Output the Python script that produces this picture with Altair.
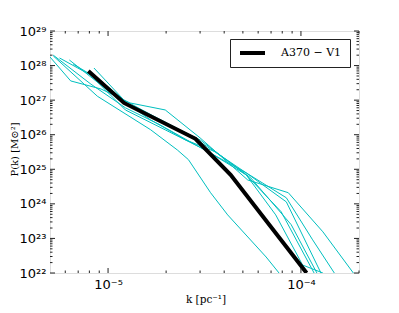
import altair as alt
import pandas as pd

# ---------------- data ----------------
k_domain = [5e-6, 2e-4]
p_domain = [1e22, 1e29]

black_name = "A370 − V1"
black_k = [7.9e-6, 1.21e-5, 2.84e-5, 4.32e-5, 1.07e-4]
black_p = [7.0e27, 8.3e26, 7.6e25, 6.9e24, 1.0e22]

c1_k = [5.0e-6, 6.4e-6, 9.2e-6, 1.30e-5, 1.98e-5, 3.0e-5, 5.3e-5, 8.6e-5, 1.30e-4, 1.87e-4]
c1_p = [1.77e28, 3.6e27, 2.1e27, 8.3e26, 5.2e26, 8.1e25, 4.9e24, 2.1e24, 1.55e23, 1.0e22]

c2_k = [5.2e-6, 8.15e-6, 1.23e-5, 1.87e-5, 2.84e-5, 5.2e-5, 8.4e-5, 1.15e-4, 1.49e-4]
c2_p = [2.0e28, 2.9e27, 6.0e26, 1.9e26, 5.1e25, 7.9e24, 1.5e24, 9.1e22, 1.0e22]

c3_k = [6.6e-6, 9.1e-6, 1.27e-5, 1.98e-5, 3.0e-5, 5.2e-5, 8.4e-5, 1.27e-4]
c3_p = [1.1e28, 3.8e27, 7.8e26, 2.3e26, 6.2e25, 7.9e24, 1.14e24, 1.0e22]

c4_k = [8.45e-6, 1.21e-5, 1.87e-5, 3.0e-5, 5.2e-5, 7.4e-5, 1.02e-4, 1.30e-4]
c4_p = [8.5e27, 1.0e27, 2.7e26, 7.1e25, 6.9e24, 4.8e23, 1.7e22, 1.0e22]

c5_k = [5.2e-6, 8.8e-6, 1.66e-5, 2.29e-5, 2.61e-5, 3.4e-5, 4.17e-5, 6.6e-5, 7.7e-5]
c5_p = [1.9e28, 1.3e27, 1.4e26, 3.6e25, 1.9e25, 2.1e24, 4.8e23, 2.9e22, 1.0e22]

c6_k = [5.6e-6, 8.1e-6, 1.23e-5, 1.98e-5, 3.2e-5, 5.2e-5, 7.9e-5, 1.17e-4]
c6_p = [1.66e28, 5.35e27, 5.2e26, 1.38e26, 3.6e25, 6.9e24, 5.9e23, 1.0e22]

c7_k = [6.3e-6, 1.02e-5, 1.66e-5, 2.52e-5, 3.6e-5, 5.5e-5, 8.9e-5, 1.21e-4]
c7_p = [1.45e28, 1.73e27, 2.7e26, 7.1e25, 3.2e25, 5.6e24, 2.5e23, 1.0e22]

x_major = [1e-5, 1e-4]
x_minor = [6e-6, 7e-6, 8e-6, 9e-6] + [m * 1e-5 for m in range(2, 10)] + [2e-4]
y_major = [10.0 ** e for e in range(22, 30)]
y_minor = [m * 10.0 ** e for e in range(22, 29) for m in range(2, 10)]

x_labels = ["10⁻⁵", "10⁻⁴"]
y_labels = ["10²²", "10²³", "10²⁴", "10²⁵", "10²⁶", "10²⁷", "10²⁸", "10²⁹"]
x_exps = [-5, -4]
y_exps = list(range(22, 30))

# ---------------- build tables ----------------
cyan = [("c1", c1_k, c1_p), ("c2", c2_k, c2_p), ("c3", c3_k, c3_p), ("c4", c4_k, c4_p),
        ("c5", c5_k, c5_p), ("c6", c6_k, c6_p), ("c7", c7_k, c7_p)]
rows = []
for name, ks, ps in cyan:
    for i, (k, p) in enumerate(zip(ks, ps)):
        rows.append({"series": name, "k": k, "P": p, "order": i})
cyan_df = pd.DataFrame(rows)
black_df = pd.DataFrame({"k": black_k, "P": black_p, "order": list(range(len(black_k)))})
legend_df = pd.DataFrame({"name": [black_name]})

W, H = 309, 242
CYAN = "#00bfbf"

def label_expr(exps, labels):
    e = "round(log(datum.value) / LN10)"
    parts = "".join(f"({e} == {x}) ? '{l}' : " for x, l in zip(exps, labels))
    return parts + "''"

xscale = alt.Scale(type="log", domain=k_domain, nice=False)
yscale = alt.Scale(type="log", domain=p_domain, nice=False)

x_axis = alt.Axis(values=x_major, labelExpr=label_expr(x_exps, x_labels), ticks=False,
                  domain=False, grid=False, labelFont="DejaVu Sans", labelFontSize=13,
                  labelColor="black", labelPadding=5, labelFlush=False,
                  title="k [pc⁻¹]", titleFont="DejaVu Serif", titleFontSize=10.5,
                  titleFontWeight="normal", titleColor="black",
                  titleX=W / 2 + 1, titleY=26, titleBaseline="middle", titleAnchor="middle")
y_axis = alt.Axis(values=y_major, labelExpr=label_expr(y_exps, y_labels), ticks=False,
                  domain=False, grid=False, labelFont="DejaVu Sans", labelFontSize=13,
                  labelColor="black", labelPadding=4, labelFlush=False,
                  title="P(k) [M⊙²]", titleFont="DejaVu Serif", titleFontSize=10,
                  titleFontWeight="normal", titleColor="black",
                  titleX=-36, titleY=H / 2 - 3, titleBaseline="middle", titleAnchor="middle")

X = lambda f: alt.X(f, scale=xscale, axis=x_axis)
Y = lambda f: alt.Y(f, scale=yscale, axis=y_axis)

cyan_layer = alt.Chart(cyan_df).mark_line(color=CYAN, strokeWidth=1, clip=True).encode(
    x=X("k:Q"), y=Y("P:Q"), detail="series:N", order="order:Q",
)

black_layer = alt.Chart(black_df).mark_line(color="black", strokeWidth=4, clip=True).encode(
    x=X("k:Q"), y=Y("P:Q"), order="order:Q",
)

def yticks(vals, length):
    df = pd.DataFrame({"v": vals})
    base = alt.Chart(df).mark_rule(color="#222", strokeWidth=1)
    left = base.encode(y=Y("v:Q"), x=alt.value(0), x2=alt.value(length))
    right = base.encode(y=Y("v:Q"), x=alt.value(W - length), x2=alt.value(W))
    return [left, right]

def xticks(vals, length):
    df = pd.DataFrame({"v": vals})
    base = alt.Chart(df).mark_rule(color="#222", strokeWidth=1)
    bottom = base.encode(x=X("v:Q"), y=alt.value(H), y2=alt.value(H - length))
    top = base.encode(x=X("v:Q"), y=alt.value(0), y2=alt.value(length))
    return [bottom, top]

ticks = yticks(y_major, 5) + yticks(y_minor, 2.5) + xticks(x_major, 5) + xticks(x_minor, 2.5)

# legend (box, line sample, label)
leg = alt.Chart(legend_df)
leg_box = leg.mark_rect(fill="white", stroke="#222", strokeWidth=1).encode(
    x=alt.value(180.5), x2=alt.value(300.5), y=alt.value(8.5), y2=alt.value(36.5))
leg_line = leg.mark_rule(color="black", strokeWidth=4).encode(
    x=alt.value(190), x2=alt.value(215), y=alt.value(22))
leg_text = leg.mark_text(align="left", baseline="middle", font="DejaVu Serif",
                         fontSize=11, color="black").encode(
    x=alt.value(231), y=alt.value(22), text="name:N")

chart = alt.layer(cyan_layer, black_layer, *ticks, leg_box, leg_line, leg_text).properties(
    width=W, height=H,
    autosize=alt.AutoSizeParams(type="none"),
    padding={"left": 42, "top": 23, "right": 32, "bottom": 32},
).configure_view(stroke="#222", strokeWidth=1).configure(background="white")

chart.save("out.html", embed_options={"renderer": "svg", "actions": False})
